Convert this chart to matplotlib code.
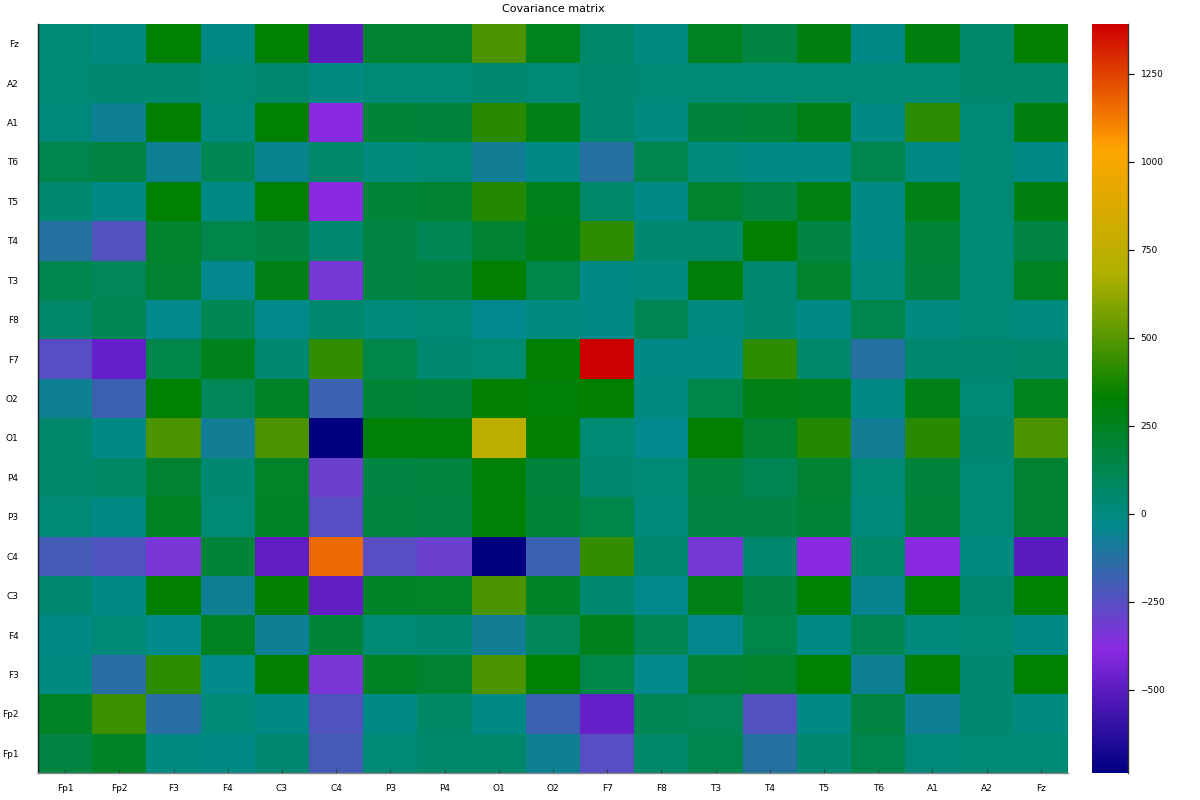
import numpy as np
import matplotlib
matplotlib.use("Agg")
import matplotlib.pyplot as plt
from matplotlib.colors import LinearSegmentedColormap

channels = ["Fp1", "Fp2", "F3", "F4", "C3", "C4", "P3", "P4", "O1", "O2",
            "F7", "F8", "T3", "T4", "T5", "T6", "A1", "A2", "Fz"]

# lower triangle of the covariance matrix: row i holds columns 0..i
tri = [
    [160],
    [225, 445],
    [0, -130, 420],
    [-10, 25, -25, 240],
    [40, -15, 330, -60, 330],
    [-200, -230, -340, 180, -490, 1165],
    [25, -15, 240, 35, 225, -250, 170],
    [50, 70, 200, 40, 220, -300, 150, 170],
    [50, -10, 480, -75, 480, -736, 310, 310, 735],
    [-60, -180, 320, 100, 230, -175, 190, 175, 330, 310],
    [-250, -470, 135, 260, 40, 430, 135, 40, 35, 330, 1392],
    [60, 120, -30, 115, -30, 45, 5, 25, -35, 0, -10, 115],
    [125, 105, 200, -40, 270, -330, 150, 170, 330, 135, -10, 0, 300],
    [-120, -235, 215, 140, 150, 45, 150, 115, 205, 270, 420, 40, 45, 330],
    [40, -10, 320, -10, 320, -380, 190, 195, 395, 260, 55, -10, 210, 155, 280],
    [130, 160, -60, 120, -50, 60, 5, 25, -75, -10, -120, 130, 5, -10, -10, 130],
    [15, -60, 330, 10, 320, -380, 190, 175, 410, 270, 45, 0, 175, 190, 270, -5, 413],
    [35, 40, 40, 25, 45, 0, 30, 30, 45, 30, 45, 25, 35, 25, 35, 30, 25, 50],
    [30, 0, 320, -5, 320, -500, 205, 200, 480, 250, 50, 0, 240, 150, 290, -15, 290, 50, 330],
]

n = len(channels)
C = np.zeros((n, n))
for i, row in enumerate(tri):
    for j, v in enumerate(row):
        C[i, j] = v
        C[j, i] = v

cb_ticks = [-500, -250, 0, 250, 500, 750, 1000, 1250]

cmap = LinearSegmentedColormap.from_list(
    "jl_rainbow",
    [(0.0, "#000080"), (1/6, "#8a2be2"), (2/6, "#008b8b"),
     (3/6, "#008000"), (4/6, "#b0b000"), (5/6, "#ffa500"), (1.0, "#cd0000")], N=512)

fig = plt.figure(figsize=(12, 8), dpi=100)
ax = fig.add_axes([38/1200, 1-773/800, (1068-38)/1200, (773-24)/800])
cax = fig.add_axes([1092/1200, 1-773/800, (1128-1092)/1200, (773-24)/800])

vmin, vmax = C.min(), C.max()
im = ax.imshow(C, origin="lower", aspect="auto", cmap=cmap, vmin=vmin, vmax=vmax,
               interpolation="nearest", extent=(0.5, n+0.5, 0.5, n+0.5))

ax.set_xticks(np.arange(1, n+1))
ax.set_xticklabels(channels, fontsize=6.5)
ax.set_yticks(np.arange(1, n+1))
ax.set_yticklabels(channels, fontsize=6.5)
ax.tick_params(axis="x", direction="in", length=3, width=0.6, color="#333333", pad=8)
ax.tick_params(axis="y", direction="in", length=0, pad=14)
ax.spines["top"].set_visible(False)
ax.spines["right"].set_visible(False)
ax.spines["left"].set_color("#1a1a1a")
ax.spines["left"].set_linewidth(1.0)
ax.spines["bottom"].set_color("#888888")
ax.spines["bottom"].set_linewidth(1.0)
ax.set_title("Covariance matrix", fontsize=8, pad=9)

cb = fig.colorbar(im, cax=cax)
cb.set_ticks(cb_ticks)
cb.ax.tick_params(labelsize=6.5, length=4, width=0.8, direction="out", pad=5)
cb.outline.set_visible(False)
cax.spines["right"].set_visible(True)
cax.spines["right"].set_color("#333333")
cax.spines["right"].set_linewidth(1.0)

fig.savefig("out.png", dpi=100)
